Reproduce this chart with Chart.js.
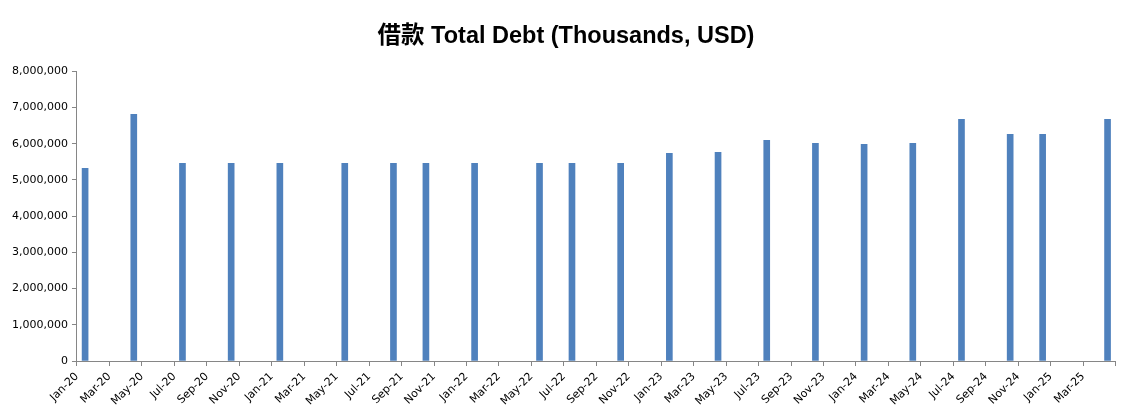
<!DOCTYPE html>
<html>
<head>
<meta charset="utf-8">
<script src="https://cdn.jsdelivr.net/npm/chart.js@4"></script>
<style>
  body { margin: 0; background: #fff; overflow: hidden; }
  #wrap { width: 1129px; height: 419px; }
</style>
</head>
<body>
<div id="wrap"><canvas id="grafico"></canvas></div>
<script>
// month tick labels, one every two months
const tickLabels = ['Jan-20','Mar-20','May-20','Jul-20','Sep-20','Nov-20',
  'Jan-21','Mar-21','May-21','Jul-21','Sep-21','Nov-21',
  'Jan-22','Mar-22','May-22','Jul-22','Sep-22','Nov-22',
  'Jan-23','Mar-23','May-23','Jul-23','Sep-23','Nov-23',
  'Jan-24','Mar-24','May-24','Jul-24','Sep-24','Nov-24',
  'Jan-25','Mar-25'];

// months that have a reported value
const debtMonths = ['Jan-20','Apr-20','Jul-20','Oct-20','Jan-21','May-21',
  'Aug-21','Oct-21','Jan-22','May-22','Jul-22','Oct-22',
  'Jan-23','Apr-23','Jul-23','Oct-23','Jan-24','Apr-24',
  'Jul-24','Oct-24','Dec-24','Apr-25'];

const debtValues = [5320000, 6810000, 5460000, 5460000, 5460000, 5460000,
  5460000, 5460000, 5460000, 5460000, 5460000, 5460000,
  5730000, 5760000, 6090000, 6010000, 5980000, 6010000,
  6670000, 6260000, 6260000, 6670000];

const monthNames = ['Jan','Feb','Mar','Apr','May','Jun','Jul','Aug','Sep','Oct','Nov','Dec'];

function monthIndex(lbl) {
  let parts = lbl.split('-');
  return monthNames.indexOf(parts[0]) + (Number(parts[1]) - 20) * 12;
}

// bar sits in the middle of its month slot
let points = debtMonths.map((m, i) => ({ x: monthIndex(m) + 0.5, y: debtValues[i] }));

const axisColor = '#868686';
const fontTicks = { family: "'DejaVu Sans', sans-serif", size: 11 };

const ctx = document.getElementById('grafico');

new Chart(ctx, {
  type: 'bar',
  data: {
    datasets: [{
      label: 'Total Debt',
      data: points,
      backgroundColor: '#4f81bd',
      barThickness: 6
    }]
  },
  options: {
    responsive: true,
    maintainAspectRatio: false,
    animation: false,
    layout: {
      padding: { left: 8, right: 5, top: 22, bottom: 7 }
    },
    plugins: {
      legend: { display: false },
      tooltip: { enabled: false },
      title: {
        display: true,
        text: '借款 Total Debt (Thousands, USD)',
        color: '#000',
        font: { family: "'Liberation Sans', 'Noto Sans CJK SC', sans-serif", size: 23.5, weight: 'bold' },
        padding: { top: 0, bottom: 21 }
      }
    },
    scales: {
      x: {
        type: 'linear',
        min: 0,
        max: 64,
        offset: false,
        grid: { display: true, drawOnChartArea: false, drawTicks: true, tickLength: 5, color: axisColor, offset: false },
        border: { color: axisColor },
        ticks: {
          stepSize: 2,
          autoSkip: false,
          maxRotation: 45,
          minRotation: 45,
          color: '#000',
          font: fontTicks,
          padding: 4,
          callback: function (v) {
            return tickLabels[v / 2] || '';
          }
        }
      },
      y: {
        min: 0,
        max: 8000000,
        grid: { display: true, drawOnChartArea: false, drawTicks: true, tickLength: 5, color: axisColor },
        border: { color: axisColor },
        ticks: {
          stepSize: 1000000,
          color: '#000',
          font: fontTicks,
          padding: 4,
          callback: function (v) {
            return v.toLocaleString('en-US');
          }
        }
      }
    }
  }
});
</script>
</body>
</html>
